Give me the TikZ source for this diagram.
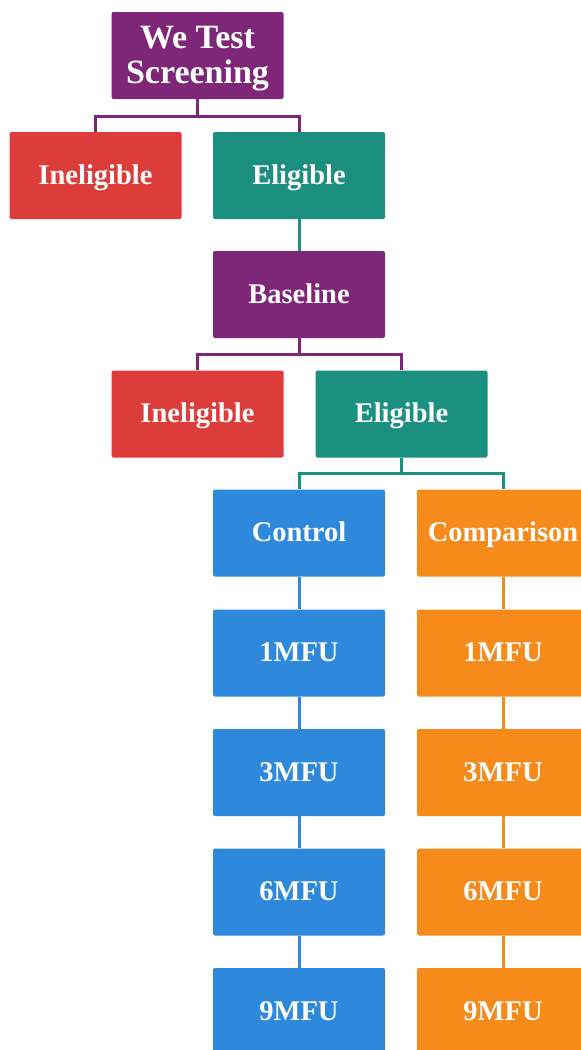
\documentclass[tikz,border=0pt]{standalone}
\usepackage{fontspec}
\setmainfont{Liberation Serif}
\definecolor{cpurple}{RGB}{126,38,120}
\definecolor{cred}{RGB}{220,60,58}
\definecolor{cteal}{RGB}{27,143,128}
\definecolor{cblue}{RGB}{46,136,220}
\definecolor{corange}{RGB}{246,138,26}
\tikzset{
  box/.style={rectangle, rounded corners=2pt, minimum width=172pt, minimum height=87pt,
    inner sep=0pt, text=white, font=\bfseries\fontsize{28.5}{34}\selectfont, align=center,
    text height=20pt, text depth=3pt},
  titlebox/.style={box, font=\bfseries\fontsize{34}{35}\selectfont, text height=58pt, text depth=3pt},
  link/.style={line width=3pt}
}
\begin{document}
\begin{tikzpicture}[x=1pt,y=-1pt]
\useasboundingbox (0,0) rectangle (581,1050);
\clip (0,0) rectangle (581,1050);
% junction coordinates
\coordinate (j1) at (197.5,116);
\coordinate (j2) at (299,354);
\coordinate (j3) at (401.5,473);
% nodes
\node[titlebox, fill=cpurple] (top) at (197.5,55.5) {We Test\\Screening};
\node[box, fill=cred] (inel1) at (95.5,175.5) {Ineligible};
\node[box, fill=cteal] (elig1) at (299,175.5) {Eligible};
\node[box, fill=cpurple] (base) at (299,294.5) {Baseline};
\node[box, fill=cred] (inel2) at (197.5,414) {Ineligible};
\node[box, fill=cteal] (elig2) at (401.5,414) {Eligible};
\node[box, fill=cblue] (ctrl) at (299,533) {Control};
\node[box, fill=corange] (comp) at (503,533) {Comparison};
\node[box, fill=cblue] (c1) at (299,653) {1MFU};
\node[box, fill=cblue] (c3) at (299,772.5) {3MFU};
\node[box, fill=cblue] (c6) at (299,892) {6MFU};
\node[box, fill=cblue] (c9) at (299,1011.5) {9MFU};
\node[box, fill=corange] (o1) at (503,653) {1MFU};
\node[box, fill=corange] (o3) at (503,772.5) {3MFU};
\node[box, fill=corange] (o6) at (503,892) {6MFU};
\node[box, fill=corange] (o9) at (503,1011.5) {9MFU};
% connectors
\draw[link, cpurple] (top.south) -- (j1) -| (inel1.north);
\draw[link, cpurple] (j1) -| (elig1.north);
\draw[link, cteal] (elig1.south) -- (base.north);
\draw[link, cpurple] (base.south) -- (j2) -| (inel2.north);
\draw[link, cpurple] (j2) -| (elig2.north);
\draw[link, cteal] (elig2.south) -- (j3) -| (ctrl.north);
\draw[link, cteal] (j3) -| (comp.north);
\draw[link, cblue] (ctrl.south) -- (c1.north);
\draw[link, cblue] (c1.south) -- (c3.north);
\draw[link, cblue] (c3.south) -- (c6.north);
\draw[link, cblue] (c6.south) -- (c9.north);
\draw[link, corange] (comp.south) -- (o1.north);
\draw[link, corange] (o1.south) -- (o3.north);
\draw[link, corange] (o3.south) -- (o6.north);
\draw[link, corange] (o6.south) -- (o9.north);
\end{tikzpicture}
\end{document}
